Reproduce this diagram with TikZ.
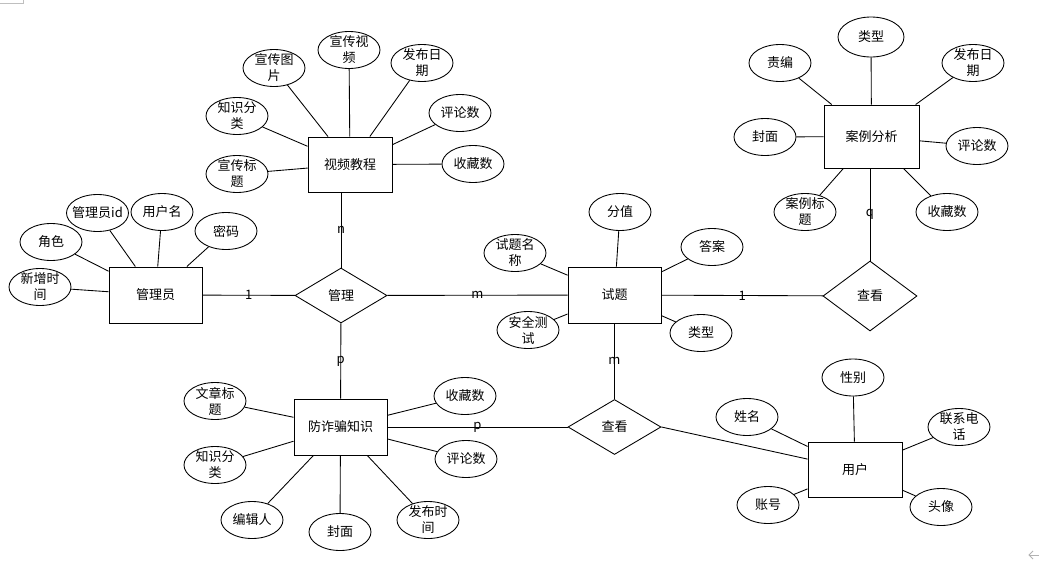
\documentclass[tikz,border=0pt]{standalone}
\usepackage{fontspec}
\setmainfont{Noto Sans CJK SC}
\usetikzlibrary{shapes.geometric}
\begin{document}
\begin{tikzpicture}[x=0.75pt,y=-0.75pt,
  every node/.style={font=\fontsize{9.75pt}{12pt}\selectfont},
  ent/.style={draw, rectangle, inner sep=0pt, line width=0.7pt, minimum width=69.75pt, minimum height=42pt},
  rel/.style={draw, diamond, inner sep=0pt, line width=0.65pt, minimum width=69pt, minimum height=41.25pt},
  attr/.style={draw, ellipse, inner sep=0pt, line width=0.65pt, minimum width=46.5pt, minimum height=27.75pt,
               label={[align=center, inner sep=0pt]center:#1}},
  lnk/.style={line width=0.65pt},
  card/.style={inner sep=0pt}]
\useasboundingbox (0,0) rectangle (1039,561);

% corner artifacts
\draw[gray!50, line width=0.6pt] (0,3) -- (23,3) -- (23,0);
\draw[gray!60, line width=0.6pt] (1029,555) -- (1039,555);
\draw[gray!60, line width=0.6pt] (1033,551) -- (1029,555) -- (1033,559);

% entities
\node[ent, minimum width=63pt, minimum height=41.25pt] (vid) at (350,164.5) {视频教程};
\node[ent] (adm) at (155.5,295) {管理员};
\node[ent] (que) at (614.5,295) {试题};
\node[ent, minimum width=71.25pt, minimum height=47.25pt] (case) at (871.5,136.5) {案例分析};
\node[ent, minimum width=70.5pt, minimum height=41.25pt] (usr) at (855,469.5) {用户};
\node[ent] (anti) at (340.5,427) {防诈骗知识};

% relationships
\node[rel] (mg) at (341,295.5) {管理};
\node[rel, minimum width=70.5pt, minimum height=52.5pt] (vr) at (870,296) {查看};
\node[rel, minimum width=69.75pt] (vb) at (614.5,427) {查看};

% video attributes
\node[attr={宣传图\\片}] (v1) at (274,68) {};
\node[attr={宣传视\\频}] (v2) at (349,50) {};
\node[attr={发布日\\期}] (v3) at (422,63) {};
\node[attr={评论数}] (v4) at (460,113) {};
\node[attr={收藏数}] (v5) at (473,164) {};
\node[attr={知识分\\类}] (v6) at (237,116) {};
\node[attr={宣传标\\题}] (v7) at (237,174) {};
\foreach \a in {v1,v2,v3,v4,v5,v6,v7} \draw[lnk] (vid) -- (\a);

% admin attributes
\node[attr={角色}] (a1) at (51,242) {};
\node[attr={管理员id}] (a2) at (97.5,213) {};
\node[attr={用户名}] (a3) at (162,212) {};
\node[attr={密码}] (a4) at (226,231) {};
\node[attr={新增时\\间}] (a5) at (40,287) {};
\foreach \a in {a1,a2,a3,a4,a5} \draw[lnk] (adm) -- (\a);

% question attributes
\node[attr={分值}] (t1) at (620,212) {};
\node[attr={试题名\\称}] (t2) at (515,253) {};
\node[attr={答案}] (t3) at (712,247) {};
\node[attr={安全测\\试}] (t4) at (528,330) {};
\node[attr={类型}] (t5) at (701,333) {};
\foreach \a in {t1,t2,t3,t4,t5} \draw[lnk] (que) -- (\a);

% case attributes
\node[attr={类型}, minimum width=49.5pt, minimum height=30pt] (c1) at (871,37) {};
\node[attr={责编}] (c2) at (780,63) {};
\node[attr={发布日\\期}] (c3) at (973,63) {};
\node[attr={封面}] (c4) at (765,137) {};
\node[attr={评论数}] (c5) at (977,146) {};
\node[attr={案例标\\题}] (c6) at (805,212) {};
\node[attr={收藏数}] (c7) at (947,212) {};
\foreach \a in {c1,c2,c3,c4,c5,c6,c7} \draw[lnk] (case) -- (\a);

% user attributes
\node[attr={性别}] (u1) at (853,377.5) {};
\node[attr={姓名}] (u2) at (747,417) {};
\node[attr={联系电\\话}] (u3) at (959,427) {};
\node[attr={账号}] (u4) at (768,505) {};
\node[attr={头像}] (u5) at (941,507) {};
\foreach \a in {u1,u2,u3,u4,u5} \draw[lnk] (usr) -- (\a);

% anti-fraud attributes
\node[attr={文章标\\题}] (f1) at (215,401) {};
\node[attr={知识分\\类}] (f2) at (215,465) {};
\node[attr={编辑人}] (f3) at (252,520) {};
\node[attr={封面}] (f4) at (340,532) {};
\node[attr={发布时\\间}] (f5) at (428,520) {};
\node[attr={收藏数}] (f6) at (465,396) {};
\node[attr={评论数}] (f7) at (466,459) {};
\foreach \a in {f1,f2,f3,f4,f5,f6,f7} \draw[lnk] (anti) -- (\a);

% relationship connectors
\draw[lnk] (adm) -- (mg) node[midway, card] {1};
\draw[lnk] (mg.north) -- (mg.north |- vid.south) node[midway, card] {n};
\draw[lnk] (mg) -- (que) node[midway, card] {m};
\draw[lnk] (mg) -- (anti) node[midway, card] {p};
\draw[lnk] (anti) -- (vb) node[midway, card] {p};
\draw[lnk] (que) -- (vb) node[midway, card] {m};
\draw[lnk] (que) -- (vr) node[midway, card] {1};
\draw[lnk] (case.south -| vr.north) -- (vr.north) node[midway, card] {q};
\draw[lnk] (vb.east) -- (usr);
\end{tikzpicture}
\end{document}
